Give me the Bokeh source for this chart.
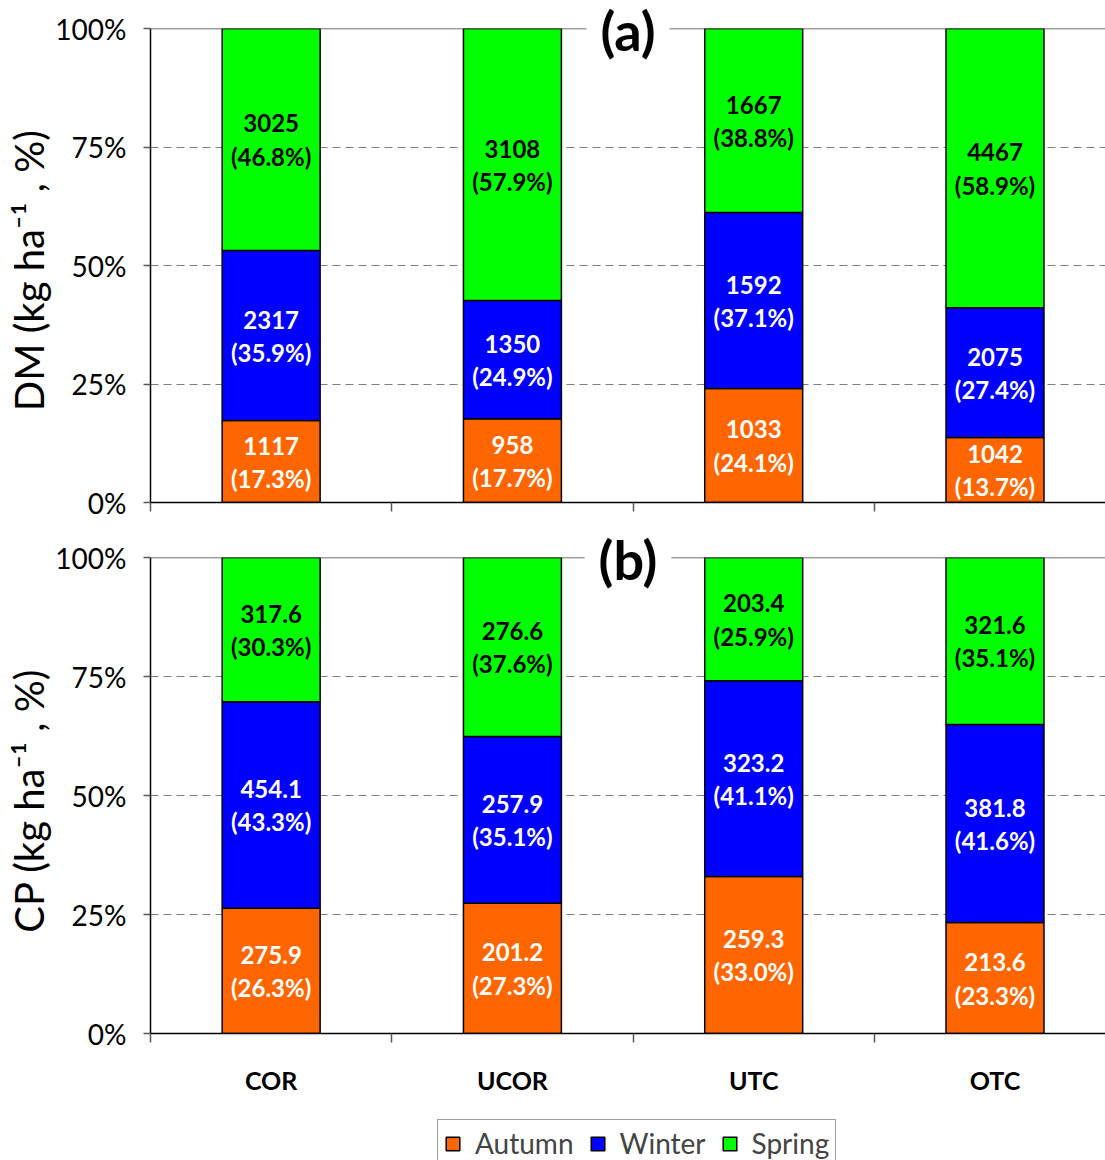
from bokeh.plotting import figure
from bokeh.models import (Range1d, FixedTicker, LinearAxis, Span, Legend, Title,
                          LegendItem, ColumnDataSource, Grid, NumeralTickFormatter,
                          CustomJSTickFormatter)
from bokeh.layouts import column
from bokeh.embed import file_html
from bokeh.resources import INLINE
from bokeh.core.properties import value

categories = ["COR", "UCOR", "UTC", "OTC"]
seasons = ["Autumn", "Winter", "Spring"]

dm_autumn = [1117, 958, 1033, 1042]
dm_winter = [2317, 1350, 1592, 2075]
dm_spring = [3025, 3108, 1667, 4467]
dm_autumn_pct = ["17.3%", "17.7%", "24.1%", "13.7%"]
dm_winter_pct = ["35.9%", "24.9%", "37.1%", "27.4%"]
dm_spring_pct = ["46.8%", "57.9%", "38.8%", "58.9%"]

cp_autumn = [275.9, 201.2, 259.3, 213.6]
cp_winter = [454.1, 257.9, 323.2, 381.8]
cp_spring = [317.6, 276.6, 203.4, 321.6]
cp_autumn_pct = ["26.3%", "27.3%", "33.0%", "23.3%"]
cp_winter_pct = ["43.3%", "35.1%", "41.1%", "41.6%"]
cp_spring_pct = ["30.3%", "37.6%", "25.9%", "35.1%"]

y_ticks = [0, 0.25, 0.5, 0.75, 1.0]
grid_ticks = [0.25, 0.5, 0.75]

FILL = {"Autumn": "#FF6600", "Winter": "#0000FF", "Spring": "#00FF00"}
TXT = {"Autumn": "white", "Winter": "white", "Spring": "black"}
FONT = "Lato"
W = 1105
LEFT = 150
XEND = 3.958
BAR_W = 0.406
xc = [i + 0.5 for i in range(len(categories))]
blank = CustomJSTickFormatter(code="return ''")


def panel(vals, pcts, fmt, ylab, tag, height, btop, bbot, show_cats):
    n = len(categories)
    totals = [sum(v[i] for v in vals) for i in range(n)]
    p = figure(width=W, height=height, x_range=Range1d(0, XEND), y_range=Range1d(0, 1),
               output_backend="svg", toolbar_location=None, title=tag,
               x_axis_type=None, y_axis_type=None,
               min_border_left=LEFT, min_border_right=0,
               min_border_top=btop, min_border_bottom=bbot)
    p.outline_line_color = None

    p.add_layout(Grid(dimension=1, ticker=FixedTicker(ticks=grid_ticks),
                      grid_line_color="#7f7f7f", grid_line_dash="8 5", grid_line_width=1.2))

    bottoms = [0.0] * n
    for s, v, pc in zip(seasons, vals, pcts):
        tops = [bottoms[i] + v[i] / totals[i] for i in range(n)]
        mids = [(bottoms[i] + tops[i]) / 2 for i in range(n)]
        src = ColumnDataSource(dict(x=xc, bottom=bottoms, top=tops, mid=mids,
                                    num=[fmt(q) for q in v],
                                    pct=["(" + q + ")" for q in pc]))
        p.vbar(x="x", bottom="bottom", top="top", width=BAR_W, source=src,
               fill_color=FILL[s], line_color="black", line_width=1.5)
        for col, off in (("num", -16), ("pct", 17)):
            p.text(x="x", y="mid", text=col, source=src, y_offset=off,
                   text_align="center", text_baseline="middle",
                   text_font=value(FONT), text_font_style="bold",
                   text_font_size="24px", text_color=TXT[s])
        bottoms = tops

    p.add_layout(Span(location=1.0, dimension="width", line_color="#404040", line_width=1.5))

    yax = LinearAxis(ticker=FixedTicker(ticks=y_ticks), formatter=NumeralTickFormatter(format="0%"),
                     major_label_text_font=FONT, major_label_text_font_size="28px",
                     major_label_text_color="black", major_label_standoff=17,
                     major_tick_out=7, major_tick_in=0, minor_tick_out=0, minor_tick_in=0,
                     major_tick_line_color="#595959", major_tick_line_width=1.5,
                     axis_line_color="black", axis_line_width=1.5)
    p.add_layout(yax, "left")
    p.add_layout(Title(text=ylab, align="center", text_font=FONT, text_font_size="40px",
                       text_font_style="normal", text_color="black", standoff=0), "left")

    xax = LinearAxis(ticker=FixedTicker(ticks=list(range(n))), formatter=blank,
                     major_label_standoff=0,
                     major_tick_out=9, major_tick_in=0, minor_tick_out=0, minor_tick_in=0,
                     major_tick_line_color="#595959", major_tick_line_width=1.5,
                     axis_line_color="black", axis_line_width=1.5)
    p.add_layout(xax, "below")

    if show_cats:
        cax = LinearAxis(ticker=FixedTicker(ticks=xc),
                         major_label_overrides={x: c for x, c in zip(xc, categories)},
                         major_label_text_font=FONT, major_label_text_font_size="25px",
                         major_label_text_font_style="bold", major_label_text_color="black",
                         major_label_standoff=22,
                         major_tick_out=0, major_tick_in=0, minor_tick_out=0, minor_tick_in=0,
                         axis_line_color=None)
        p.add_layout(cax, "below")

    # panel tag "(a)"/"(b)" straddling the top line, on a white patch
    p.title.align = "center"
    p.title.text_font = FONT
    p.title.text_font_size = "54px"
    p.title.text_font_style = "bold"
    p.title.text_color = "black"
    p.title.background_fill_color = "white"
    p.title.padding = 14
    p.title.standoff = -96
    return p


pa = panel([dm_autumn, dm_winter, dm_spring], [dm_autumn_pct, dm_winter_pct, dm_spring_pct],
           lambda q: "%d" % q, "DM (kg ha\u207b\u00b9 ,  %)", "(a)", 527, 28, 25, False)
pb = panel([cp_autumn, cp_winter, cp_spring], [cp_autumn_pct, cp_winter_pct, cp_spring_pct],
           lambda q: "%.1f" % q, "CP (kg ha\u207b\u00b9 ,  %)", "(b)", 590, 30, 84, True)

# legend strip; the proxy bars that give the legend its boxes sit hidden under the legend
pc = figure(width=W, height=43, x_range=Range1d(0, 1), y_range=Range1d(0, 1),
            output_backend="svg", toolbar_location=None, x_axis_type=None, y_axis_type=None,
            min_border_left=LEFT, min_border_right=0, min_border_top=0, min_border_bottom=0)
pc.outline_line_color = None
items = []
for s in seasons:
    proxy = pc.vbar(x=[0.5], bottom=[0.3], top=[0.4], width=0.01, fill_color=FILL[s],
                    line_color="black", line_width=1.5)
    items.append(LegendItem(label=s, renderers=[proxy]))
legend = Legend(items=items, orientation="horizontal", location=(287, -7),
                glyph_width=17, glyph_height=17, label_text_font=FONT,
                label_text_font_size="28px", label_standoff=14, spacing=15,
                padding=6, margin=0, border_line_color="#404040", border_line_width=1.2,
                background_fill_color="white")
pc.add_layout(legend, "center")

layout = column(pa, pb, pc, spacing=0)
open("out.html", "w").write(file_html(layout, INLINE))
